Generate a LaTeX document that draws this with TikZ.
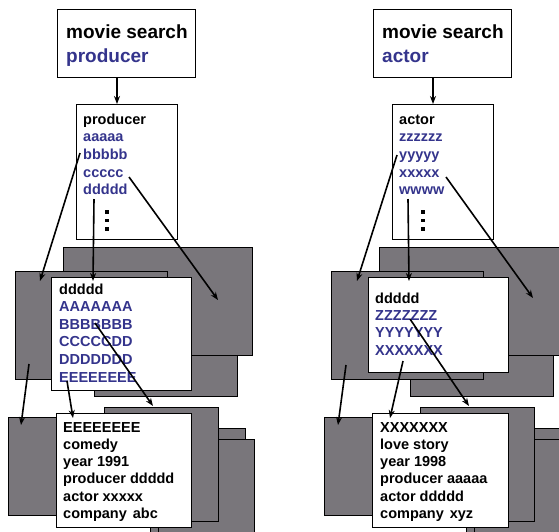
\documentclass[tikz,border=0pt]{standalone}
\usepackage{fontspec}
\setmainfont{Liberation Sans}
\usetikzlibrary{arrows.meta}
\definecolor{cardgray}{RGB}{121,118,123}
\definecolor{keyblue}{RGB}{52,52,140}
\tikzset{
  card/.style={draw=black, line width=1pt, fill=cardgray},
  sheet/.style={draw=black, line width=1pt, fill=white},
  bigtxt/.style={anchor=base west, inner sep=0pt, font=\bfseries\fontsize{19}{22}\selectfont},
  txt/.style={anchor=base west, inner sep=0pt, font=\bfseries\fontsize{14.5}{17}\selectfont},
  link/.style={line width=1.6pt, -{Stealth[length=8pt,width=6pt]}},
  dot/.style={fill=black, minimum size=3.2pt, inner sep=0pt, draw=none}
}
\begin{document}
\begin{tikzpicture}[x=1pt,y=-1pt]
\useasboundingbox (0,0) rectangle (559,531);
\clip (0,0) rectangle (559,531);

% ---------- two index chains, side by side ----------
\foreach \s/\key/\ka/\kb/\kc/\kd/\side in {0/producer/aaaaa/bbbbb/ccccc/ddddd/L, 316/actor/zzzzzz/yyyyy/xxxxx/wwww/R} {
  \begin{scope}[xshift=\s pt]
    % query box
    \draw[sheet] (57,9) rectangle (195,77);
    \node[bigtxt] (\side-q1) at (66,38) {movie search};
    \node[bigtxt, text=keyblue] (\side-q2) at (66,62) {\key};
    % index box
    \draw[sheet] (76,104) rectangle (177,239);
    \node[txt] (\side-i0) at (83,124) {\key};
    \node[txt, text=keyblue] (\side-i1) at (83,141.7) {\ka};
    \node[txt, text=keyblue] (\side-i2) at (83,159.4) {\kb};
    \node[txt, text=keyblue] (\side-i3) at (83,177.1) {\kc};
    \node[txt, text=keyblue] (\side-i4) at (83,194.8) {\kd};
    \node[dot] (\side-d1) at (107,212) {};
    \node[dot] (\side-d2) at (107,220.5) {};
    \node[dot] (\side-d3) at (107,229) {};
    % middle stack of cards
    \draw[card] (94,290) rectangle (237,396);
    \draw[card] (63,247) rectangle (252,355);
    \draw[card] (15,271) rectangle (167,379);
    % bottom stack of cards
    \draw[card] (150,428) rectangle (245,545);
    \draw[card] (158,439) rectangle (254,545);
    \draw[card] (104,407) rectangle (218,521);
    \draw[card] (8,417) rectangle (120,515);
  \end{scope}
}

% ---------- producer side: posting list and record ----------
\draw[sheet] (51,277) rectangle (191,390);
\foreach \c/\t [count=\i] in {black/ddddd, keyblue/AAAAAAA, keyblue/BBBBBBB, keyblue/CCCCCDD, keyblue/DDDDDDD, keyblue/EEEEEEEE}
  \node[txt, text=\c] (L-p\i) at (59,{294+17.6*(\i-1)}) {\t};
\draw[sheet] (56,413) rectangle (191,527);
\foreach \t [count=\i] in {EEEEEEEE, comedy, year 1991, producer ddddd, actor xxxxx, company\hspace{6pt}abc}
  \node[txt] (L-r\i) at (63,{432+17.3*(\i-1)}) {\t};

% ---------- actor side: posting list and record ----------
\draw[sheet] (368,277) rectangle (508,372);
\foreach \c/\t [count=\i] in {black/ddddd, keyblue/ZZZZZZZ, keyblue/YYYYYYY, keyblue/XXXXXXX}
  \node[txt, text=\c] (R-p\i) at (375,{303+17.4*(\i-1)}) {\t};
\draw[sheet] (372,413) rectangle (508,527);
\foreach \t [count=\i] in {XXXXXXX, love story, year 1998, producer aaaaa, actor ddddd, company\hspace{6pt}xyz}
  \node[txt] (R-r\i) at (380,{432+17.3*(\i-1)}) {\t};

% ---------- connector end points ----------
\coordinate (L-a1) at (117,77);  \coordinate (L-b1) at (117,104);
\coordinate (L-a2) at (80,153);  \coordinate (L-b2) at (40,281);
\coordinate (L-a3) at (94,199);  \coordinate (L-b3) at (93,281);
\coordinate (L-a4) at (129,177); \coordinate (L-b4) at (218,300);
\coordinate (L-a5) at (29,364);  \coordinate (L-b5) at (21,425);
\coordinate (L-a6) at (67,381);  \coordinate (L-b6) at (73,418);
\coordinate (L-a7) at (95,323);  \coordinate (L-b7) at (153,406);

\coordinate (R-a1) at (433,77);  \coordinate (R-b1) at (433,104);
\coordinate (R-a2) at (397,155); \coordinate (R-b2) at (357,281);
\coordinate (R-a3) at (408,199); \coordinate (R-b3) at (409,281);
\coordinate (R-a4) at (446,177); \coordinate (R-b4) at (533,298);
\coordinate (R-a5) at (346,365); \coordinate (R-b5) at (338,425);
\coordinate (R-a6) at (403,361); \coordinate (R-b6) at (390,418);
\coordinate (R-a7) at (410,319); \coordinate (R-b7) at (469,406);

\foreach \side in {L,R}
  \foreach \k in {1,...,7}
    \draw[link] (\side-a\k) -- (\side-b\k);
\end{tikzpicture}
\end{document}
